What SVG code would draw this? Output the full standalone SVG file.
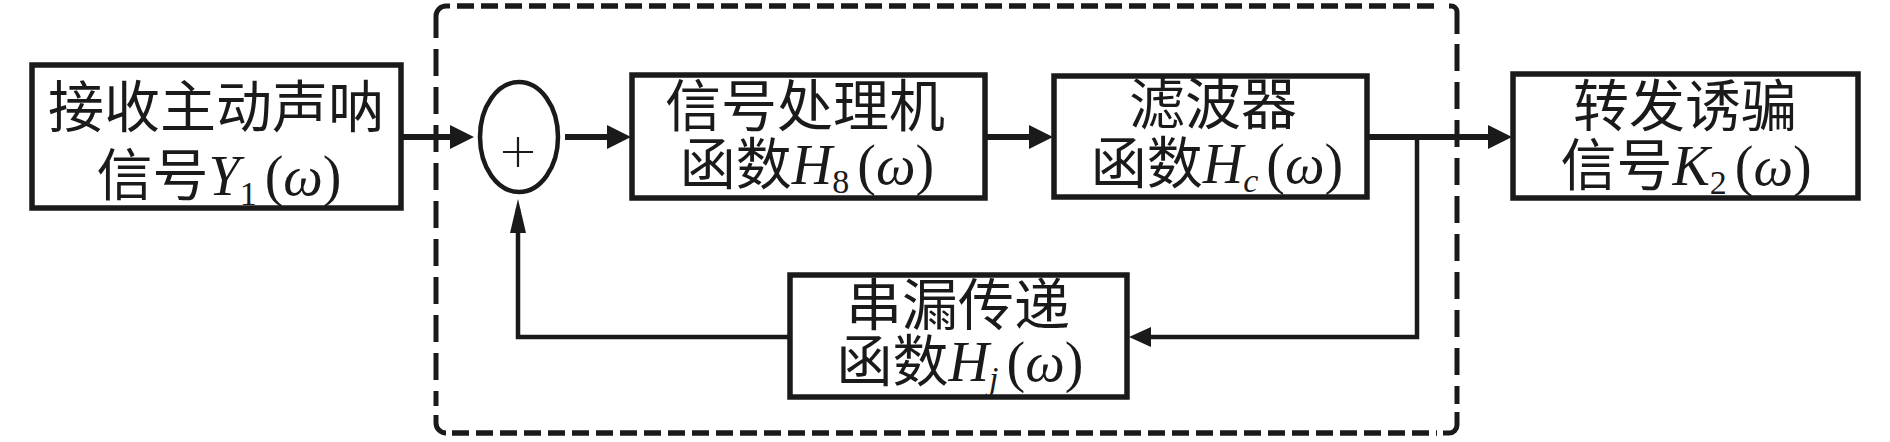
<svg xmlns="http://www.w3.org/2000/svg" width="1890" height="442" viewBox="0 0 1890 442">
<style>
.box{fill:#fff;stroke:#1a1a1a;stroke-width:5.5}
.t{font-family:"Liberation Serif","Noto Sans CJK SC",serif;font-size:56px;fill:#1a1a1a;text-anchor:middle}
.i{font-style:italic}
.sub{font-size:34px}
.fw{fill:none;stroke:#1a1a1a;stroke-width:6}
.fb{fill:none;stroke:#1a1a1a;stroke-width:4.5}
.dh{fill:none;stroke:#1a1a1a;stroke-width:5.5;stroke-dasharray:17 7}
.dv{fill:none;stroke:#1a1a1a;stroke-width:5;stroke-dasharray:27 11}
.dc{fill:none;stroke:#1a1a1a;stroke-width:5}
</style>
<defs>
<marker id="ah" markerUnits="userSpaceOnUse" markerWidth="24" markerHeight="24" refX="14" refY="12" orient="auto"><path d="M0,0 L24,12 L0,24 z" fill="#1a1a1a"/></marker>
<marker id="ahs" markerUnits="userSpaceOnUse" markerWidth="22" markerHeight="20" refX="14" refY="10" orient="auto"><path d="M0,0 L22,10 L0,20 z" fill="#1a1a1a"/></marker>
<marker id="ahu" markerUnits="userSpaceOnUse" markerWidth="34" markerHeight="16" refX="24" refY="8" orient="auto"><path d="M0,0 L34,8 L0,16 z" fill="#1a1a1a"/></marker>
</defs>
<g id="boundary">
<path class="dc" d="M436,38 V16 A10,10 0 0 1 446,6 H450"/>
<path class="dh" d="M457,6 H1441"/>
<path class="dc" d="M1449,6 H1451 A6,6 0 0 1 1457,12 V34"/>
<path class="dv" d="M1457,44 V404"/>
<path class="dc" d="M1457,412 V425 A8,8 0 0 1 1449,433 H1443"/>
<path class="dh" d="M452,433 H1437"/>
<path class="dc" d="M446,433 A10,10 0 0 1 436,423 V415"/>
<path class="dv" d="M436,49 V406"/>
</g>
<g id="connectors">
<path class="fw" d="M401,137 H464" marker-end="url(#ah)"/>
<path class="fw" d="M565,137 H621" marker-end="url(#ah)"/>
<path class="fw" d="M985,137 H1043" marker-end="url(#ah)"/>
<path class="fw" d="M1367,137 H1502" marker-end="url(#ah)"/>
<path class="fb" d="M1417,137 V337 H1137" marker-end="url(#ahs)"/>
<path class="fb" d="M790,337 H518 V209" marker-end="url(#ahu)"/>
</g>
<g id="input">
<rect class="box" x="32" y="65" width="369" height="143"/>
<text class="t" x="216" y="127">接收主动声呐</text>
<text class="t" x="219" y="195">信号<tspan class="i">Y</tspan><tspan class="sub" dy="10">1</tspan><tspan dy="-10" dx="8">(</tspan><tspan class="i">ω</tspan>)</text>
</g>
<g id="sum">
<ellipse cx="519" cy="137" rx="39" ry="55" fill="#fff" stroke="#1a1a1a" stroke-width="4.5"/>
<path d="M503,152 H533 M518,137 V167" stroke="#1a1a1a" stroke-width="2.2" fill="none"/>
</g>
<g id="processor">
<rect class="box" x="632" y="75" width="353" height="123"/>
<text class="t" x="805" y="126">信号处理机</text>
<text class="t" x="807" y="184">函数<tspan class="i">H</tspan><tspan class="sub" dy="9">8</tspan><tspan dy="-9" dx="8">(</tspan><tspan class="i">ω</tspan>)</text>
</g>
<g id="filter">
<rect class="box" x="1054" y="76" width="313" height="121"/>
<text class="t" x="1213" y="124">滤波器</text>
<text class="t" x="1217" y="183">函数<tspan class="i">H</tspan><tspan class="sub i" dy="9">c</tspan><tspan dy="-9" dx="8">(</tspan><tspan class="i">ω</tspan>)</text>
</g>
<g id="output">
<rect class="box" x="1513" y="74" width="345" height="124"/>
<text class="t" x="1685" y="126">转发诱骗</text>
<text class="t" x="1686" y="185">信号<tspan class="i">K</tspan><tspan class="sub" dy="9">2</tspan><tspan dy="-9" dx="8">(</tspan><tspan class="i">ω</tspan>)</text>
</g>
<g id="leak">
<rect class="box" x="790" y="275" width="337" height="122"/>
<text class="t" x="958" y="325">串漏传递</text>
<text class="t" x="960" y="381">函数<tspan class="i">H</tspan><tspan class="sub i" dy="9">j</tspan><tspan dy="-9" dx="8">(</tspan><tspan class="i">ω</tspan>)</text>
</g>
</svg>
